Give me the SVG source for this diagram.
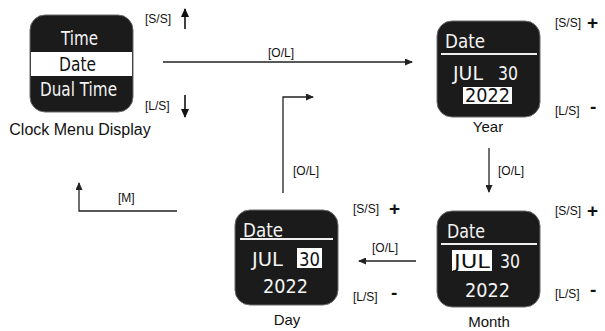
<svg xmlns="http://www.w3.org/2000/svg" width="605" height="331" viewBox="0 0 605 331">
<style>
.lbl{font-family:"Liberation Sans",Arial,sans-serif;font-size:12px;fill:#111}
.cap{font-family:"Liberation Sans",Arial,sans-serif;font-size:15px;fill:#111;text-anchor:middle}
.sym{font-family:"Liberation Sans",Arial,sans-serif;font-size:19px;font-weight:bold;fill:#111}
.scr{fill:#1b1b1b;stroke:#6a6a6a;stroke-width:1}
.lcd{font-family:"DejaVu Sans",sans-serif;fill:#f4f4f4;font-size:20px}
.lcdk{font-family:"DejaVu Sans",sans-serif;fill:#111;font-size:20px}
.hl{fill:#ffffff}
.rule{stroke:#f0f0f0;stroke-width:2}
.con{fill:none;stroke:#222;stroke-width:1.3}
.big{fill:none;stroke:#111;stroke-width:1.6}
</style>
<defs>
<marker id="ah" markerUnits="userSpaceOnUse" markerWidth="8" markerHeight="7" refX="7" refY="3.5" orient="auto">
<path d="M0,0 L8,3.5 L0,7 z" fill="#222"/>
</marker>
<marker id="ahb" markerUnits="userSpaceOnUse" markerWidth="9" markerHeight="9" refX="8" refY="4" orient="auto">
<path d="M0,0 L9,4 L0,8 z" fill="#111"/>
</marker>
</defs>

<g id="connectors">
<path class="con" d="M163,62 L412,62" marker-end="url(#ah)"/>
<path class="con" d="M489,148 L489,192" marker-end="url(#ah)"/>
<path class="con" d="M416,261 L359,261" marker-end="url(#ah)"/>
<path class="con" d="M283,193 L283,97 L313,97" marker-end="url(#ah)"/>
<path class="con" d="M177,211 L79,211 L79,183" marker-end="url(#ah)"/>
<path class="big" d="M185,29 L185,9" marker-end="url(#ahb)"/>
<path class="big" d="M185,95 L185,117" marker-end="url(#ahb)"/>
<text class="lbl" x="268" y="57">[O/L]</text>
<text class="lbl" x="498" y="175">[O/L]</text>
<text class="lbl" x="372" y="252">[O/L]</text>
<text class="lbl" x="293" y="175">[O/L]</text>
<text class="lbl" x="118" y="202">[M]</text>
<text class="lbl" x="145" y="23">[S/S]</text>
<text class="lbl" x="145" y="110">[L/S]</text>
</g>

<g id="clock-menu">
<rect class="scr" x="30" y="15" width="103" height="97" rx="15"/>
<rect class="hl" x="31" y="52" width="101" height="24"/>
<text class="lcd" x="61" y="45" textLength="37" lengthAdjust="spacingAndGlyphs">Time</text>
<text class="lcdk" x="59" y="71" textLength="37" lengthAdjust="spacingAndGlyphs">Date</text>
<text class="lcd" x="40" y="96" textLength="77" lengthAdjust="spacingAndGlyphs">Dual Time</text>
<text class="cap" x="80" y="135" style="font-size:16px">Clock Menu Display</text>
</g>

<g id="year">
<rect class="scr" x="437" y="21" width="103" height="96" rx="15"/>
<text class="lcd" x="445" y="48" textLength="40" lengthAdjust="spacingAndGlyphs">Date</text>
<line class="rule" x1="441" y1="54" x2="537" y2="54"/>
<text class="lcd" x="453" y="80" textLength="30" lengthAdjust="spacingAndGlyphs">JUL</text>
<text class="lcd" x="498" y="80" textLength="20" lengthAdjust="spacingAndGlyphs">30</text>
<rect class="hl" x="463" y="87" width="49" height="17"/>
<text class="lcdk" x="465" y="102" textLength="45" lengthAdjust="spacingAndGlyphs">2022</text>
<text class="cap" x="488" y="132">Year</text>
<text class="lbl" x="555" y="27">[S/S]</text>
<text class="sym" x="587" y="29">+</text>
<text class="lbl" x="555" y="115">[L/S]</text>
<text class="sym" x="590" y="113">-</text>
</g>

<g id="month">
<rect class="scr" x="437" y="211" width="103" height="96" rx="15"/>
<text class="lcd" x="447" y="238" textLength="38" lengthAdjust="spacingAndGlyphs">Date</text>
<line class="rule" x1="441" y1="244" x2="537" y2="244"/>
<rect class="hl" x="452" y="250" width="40" height="21"/>
<text class="lcdk" x="454" y="268" textLength="36" lengthAdjust="spacingAndGlyphs">JUL</text>
<text class="lcd" x="500" y="268" textLength="20" lengthAdjust="spacingAndGlyphs">30</text>
<text class="lcd" x="465" y="297" textLength="45" lengthAdjust="spacingAndGlyphs">2022</text>
<text class="cap" x="489" y="327">Month</text>
<text class="lbl" x="555" y="215">[S/S]</text>
<text class="sym" x="587" y="217">+</text>
<text class="lbl" x="555" y="298">[L/S]</text>
<text class="sym" x="590" y="296">-</text>
</g>

<g id="day">
<rect class="scr" x="235" y="210" width="103" height="95" rx="15"/>
<text class="lcd" x="243" y="237" textLength="40" lengthAdjust="spacingAndGlyphs">Date</text>
<line class="rule" x1="240" y1="239" x2="333" y2="239"/>
<text class="lcd" x="252" y="266" textLength="31" lengthAdjust="spacingAndGlyphs">JUL</text>
<rect class="hl" x="297" y="248" width="25" height="20"/>
<text class="lcdk" x="299" y="266" textLength="21" lengthAdjust="spacingAndGlyphs">30</text>
<text class="lcd" x="263" y="293" textLength="45" lengthAdjust="spacingAndGlyphs">2022</text>
<text class="cap" x="287" y="325">Day</text>
<text class="lbl" x="353" y="213">[S/S]</text>
<text class="sym" x="389" y="215">+</text>
<text class="lbl" x="353" y="301">[L/S]</text>
<text class="sym" x="391" y="299">-</text>
</g>
</svg>
